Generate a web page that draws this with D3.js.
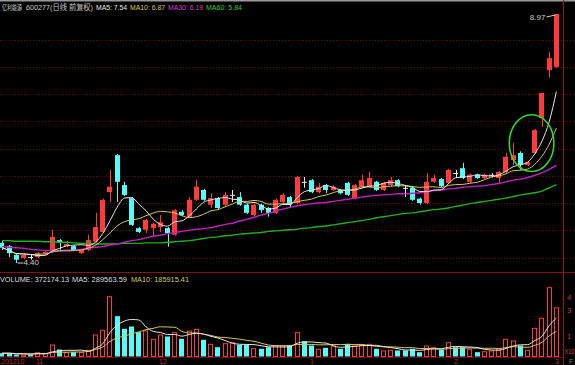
<!DOCTYPE html>
<html><head><meta charset="utf-8">
<script src="https://cdn.jsdelivr.net/npm/d3@7/dist/d3.min.js"></script>
<style>
html,body{margin:0;padding:0;background:#000;overflow:hidden}
svg{display:block}
text{font-family:"Liberation Sans",Arial,"Noto Sans CJK SC",sans-serif}
</style>
</head><body>
<svg id="chart" width="575" height="365"></svg>
<script>
// ---------------- data ----------------
const openP = [4.77,4.71,4.55,4.49,4.51,4.51,4.57,4.64,4.82,4.71,
  4.71,4.58,4.64,4.79,4.97,5.70,6.38,5.83,5.59,5.04,
  5.01,5.04,5.06,5.04,4.92,5.34,5.25,5.56,5.74,5.47,
  5.59,5.47,5.65,5.61,5.47,5.28,5.47,5.41,5.32,5.52,
  5.61,5.50,5.89,5.92,5.70,5.83,5.74,5.74,5.87,5.59,
  5.80,5.80,5.89,5.74,5.83,5.92,5.78,5.78,5.58,5.50,
  5.89,5.94,5.87,6.05,6.14,5.89,6.02,5.96,6.02,5.96,
  6.07,6.29,6.42,6.20,6.42,7.06,7.94,8.00];
const highP = [4.81,4.73,4.57,4.57,4.55,4.60,4.62,5.01,4.84,4.80,
  4.73,4.66,4.92,5.32,5.58,6.11,6.40,5.89,5.61,5.06,
  5.21,5.14,5.28,5.06,5.39,5.37,5.61,5.92,5.76,5.68,
  5.61,5.70,5.74,5.70,5.49,5.49,5.49,5.43,5.58,5.68,
  5.63,6.00,5.98,5.94,5.87,5.85,5.83,5.76,5.89,5.85,
  6.02,6.07,5.91,5.89,5.98,5.94,5.83,5.80,5.60,6.05,
  6.02,5.96,6.13,6.11,6.24,6.04,6.04,6.04,6.05,6.09,
  6.42,6.60,6.45,6.27,6.86,7.52,8.27,8.97];
const lowP = [4.64,4.51,4.40,4.47,4.46,4.49,4.55,4.58,4.64,4.69,
  4.62,4.57,4.62,4.77,4.95,5.52,5.52,5.63,5.08,4.95,
  4.95,4.88,4.97,4.70,4.90,5.26,5.23,5.54,5.54,5.41,
  5.39,5.43,5.52,5.45,5.30,5.26,5.32,5.25,5.30,5.47,
  5.41,5.48,5.78,5.68,5.68,5.68,5.72,5.66,5.63,5.57,
  5.78,5.78,5.72,5.72,5.80,5.79,5.61,5.54,5.47,5.48,
  5.87,5.79,5.85,5.96,5.94,5.87,5.94,5.94,5.97,5.87,
  6.05,6.20,6.11,6.18,6.40,6.90,7.81,7.98];
const closeP = [4.68,4.58,4.46,4.55,4.51,4.58,4.60,4.88,4.77,4.75,
  4.64,4.64,4.82,5.06,5.56,5.80,5.89,5.65,5.10,4.97,
  5.19,5.12,5.15,4.95,5.37,5.28,5.56,5.80,5.56,5.59,
  5.41,5.65,5.65,5.47,5.32,5.47,5.37,5.32,5.56,5.65,
  5.47,5.98,5.89,5.70,5.80,5.74,5.80,5.68,5.65,5.83,
  5.92,5.96,5.74,5.87,5.92,5.81,5.78,5.56,5.50,5.89,
  5.96,5.81,6.11,6.05,5.96,6.02,5.96,6.02,6.02,6.07,
  6.35,6.38,6.20,6.25,6.84,7.52,8.16,8.97];
const volume = [25000,25000,15000,15000,15000,32600,25000,90900,53000,32600,
  32600,32600,50800,166700,202300,456800,305300,209900,227300,184100,
  197000,134100,166700,151500,184100,134100,197000,209900,126500,96200,
  70500,100800,108300,88600,88600,62900,58300,70500,83300,83300,
  83300,184100,115900,83300,58300,65900,83300,58300,96200,83300,
  88600,96200,58300,45500,50800,45500,45500,58300,32600,83300,
  70500,50800,108300,70500,70500,58300,32600,40200,45500,58300,
  134100,121200,83300,50800,217400,293200,525000,372174];
const ma30 = [4.70,4.69,4.68,4.67,4.65,4.64,4.63,4.63,4.62,4.62,
  4.63,4.65,4.67,4.69,4.70,4.73,4.75,4.78,4.81,4.83,
  4.86,4.89,4.91,4.94,4.96,4.98,5.00,5.02,5.03,5.05,
  5.08,5.11,5.13,5.17,5.20,5.24,5.28,5.31,5.35,5.39,
  5.42,5.45,5.47,5.49,5.50,5.51,5.53,5.55,5.57,5.59,
  5.61,5.63,5.64,5.65,5.66,5.67,5.67,5.68,5.69,5.71,
  5.73,5.74,5.76,5.77,5.79,5.80,5.81,5.82,5.84,5.86,
  5.89,5.92,5.94,5.97,6.01,6.06,6.12,6.19];
const ma60 = [4.81,4.81,4.80,4.80,4.80,4.80,4.79,4.79,4.78,4.78,
  4.77,4.76,4.76,4.75,4.75,4.75,4.75,4.76,4.76,4.76,
  4.77,4.77,4.77,4.78,4.79,4.80,4.81,4.83,4.85,4.87,
  4.88,4.90,4.91,4.93,4.94,4.95,4.96,4.98,4.99,5.00,
  5.01,5.02,5.04,5.05,5.07,5.08,5.10,5.12,5.14,5.16,
  5.18,5.20,5.23,5.25,5.27,5.29,5.31,5.32,5.34,5.36,
  5.38,5.39,5.41,5.44,5.46,5.49,5.51,5.53,5.55,5.57,
  5.59,5.62,5.65,5.67,5.69,5.72,5.78,5.84];
const gridPrices = [8.5,8.0,7.5,7.0,6.5,6.0,5.5,5.0,4.5];
const dateLabels = ["201210","11","12","1","2","3"];
const dateLabelIdx = [0,5,22,43,63,77];
const volTickLabels = ["4","3","1"];
const volTickValues = [400000,300000,100000];
const titleParts = ["亿利能源","600277(日线 前复权)","MA5: 7.54","MA10: 6.87","MA30: 6.19","MA60: 5.84"];
const volParts = ["VOLUME: 372174.13","MA5: 289563.59","MA10: 185915.41"];
const markHigh = "8.97", markLow = "4.40";

// ---------------- drawing ----------------
const RED = "#ff3a3a", CYAN = "#54fcfc", DOJI = "#e8e8e8";
const n = closeP.length;
const svg = d3.select("#chart");
const idx = d3.range(n);

const x = d3.scaleBand().domain(idx).range([-1.6, 560]).paddingInner(0.3).paddingOuter(0.15);
const xc = i => x(i) + x.bandwidth() / 2;
const y = d3.scaleLinear().domain([4.40, 8.97]).range([263, 14]);
const yv = d3.scaleLinear().domain([0, 500000]).range([356.5, 290.5]);

svg.append("rect").attr("width", 575).attr("height", 365).attr("fill", "#000");
svg.append("rect").attr("x", 0).attr("y", 0).attr("width", 575).attr("height", 1.5).attr("fill", "#9a9a9a");

// grid
svg.append("g").selectAll("line").data(gridPrices).join("line")
  .attr("x1", 0).attr("x2", 575)
  .attr("y1", d => Math.round(y(d)) + 0.5).attr("y2", d => Math.round(y(d)) + 0.5)
  .attr("stroke", "#740c0c").attr("stroke-dasharray", "1,2");

// panel separators / axes
svg.append("line").attr("x1", 0).attr("x2", 575).attr("y1", 272.5).attr("y2", 272.5).attr("stroke", "#8a1010");
svg.append("line").attr("x1", 0).attr("x2", 563).attr("y1", 357.5).attr("y2", 357.5).attr("stroke", "#6a0a0a");
svg.append("line").attr("x1", 563.5).attr("x2", 563.5).attr("y1", 0).attr("y2", 365).attr("stroke", "#a01414");

const dir = i => {
  if (closeP[i] > openP[i]) return 1;
  if (closeP[i] < openP[i]) return -1;
  return 0;
};
const volUp = i => {
  const d = dir(i);
  if (d !== 0) return d > 0;
  return i === 0 ? true : closeP[i] >= closeP[i - 1];
};
const candleColor = i => dir(i) > 0 ? RED : dir(i) < 0 ? CYAN : DOJI;

// candles
const cg = svg.append("g");
cg.selectAll("line.wick").data(idx).join("line")
  .attr("x1", i => Math.round(xc(i)) + 0.5).attr("x2", i => Math.round(xc(i)) + 0.5)
  .attr("y1", i => y(highP[i])).attr("y2", i => y(lowP[i]))
  .attr("stroke", candleColor).attr("stroke-width", 1);
cg.selectAll("rect.body").data(idx).join("rect")
  .attr("x", i => Math.round(x(i)))
  .attr("width", Math.round(x.bandwidth()))
  .attr("y", i => y(Math.max(openP[i], closeP[i])))
  .attr("height", i => Math.max(1, Math.abs(y(openP[i]) - y(closeP[i]))))
  .attr("fill", candleColor);

// moving averages
const sma = (arr, k) => arr.map((_, i) => d3.mean(arr.slice(Math.max(0, i - k + 1), i + 1)));
const ma5 = sma(closeP, 5), ma10 = sma(closeP, 10);
const line = d3.line().x((d, i) => xc(i)).y(d => y(d)).curve(d3.curveMonotoneX);
[[ma60, "#1fae1f", 1.4], [ma30, "#c21fc2", 1.4], [ma10, "#d8c85a", 1], [ma5, "#e6e6e6", 1]].forEach(([d, c, w]) => {
  svg.append("path").attr("d", line(d)).attr("fill", "none").attr("stroke", c).attr("stroke-width", w);
});

// volume bars
const vg = svg.append("g");
vg.selectAll("rect").data(idx).join("rect")
  .attr("x", i => Math.round(x(i)) + (volUp(i) ? 0.5 : 0))
  .attr("width", i => Math.round(x.bandwidth()) - (volUp(i) ? 1 : 0))
  .attr("y", i => yv(volume[i]) + (volUp(i) ? 0.5 : 0))
  .attr("height", i => yv(0) - yv(volume[i]) - (volUp(i) ? 0.5 : 0))
  .attr("fill", i => volUp(i) ? "#000" : CYAN)
  .attr("stroke", i => volUp(i) ? RED : "none")
  .attr("stroke-width", 1);
const vma5 = sma(volume, 5), vma10 = sma(volume, 10);
const vline = d3.line().x((d, i) => xc(i)).y(d => yv(d)).curve(d3.curveMonotoneX);
svg.append("path").attr("d", vline(vma10)).attr("fill", "none").attr("stroke", "#d8c85a").attr("stroke-width", 1);
svg.append("path").attr("d", vline(vma5)).attr("fill", "none").attr("stroke", "#e6e6e6").attr("stroke-width", 1);

// volume axis labels
svg.append("g").selectAll("text").data(volTickValues).join("text")
  .attr("x", 567).attr("y", d => yv(d) - 4)
  .attr("fill", "#c83a3a").attr("font-size", 7.5).text((d, i) => volTickLabels[i]);
svg.append("text").attr("x", 564.5).attr("y", 354).attr("fill", "#c04848").attr("font-size", 6.5)
  .attr("textLength", 10).attr("lengthAdjust", "spacingAndGlyphs").text("X10");
svg.append("text").attr("x", 569).attr("y", 364).attr("fill", "#8a8a8a").attr("font-size", 6.5).text("F");

// date labels
svg.append("g").selectAll("text").data(dateLabelIdx).join("text")
  .attr("x", (d, i) => i === 0 ? 1 : Math.round(x(d)) + 1)
  .attr("y", 364).attr("fill", "#c02828").attr("font-size", 7)
  .text((d, i) => dateLabels[i]);

// title
const titleX = [2, 26, 96, 130, 168, 206];
const titleW = [20, 67, 31, 35, 35, 36];
const titleF = [6.5, 7.5, 7.5, 7.5, 7.5, 7.5];
const titleC = ["#c8c8c8", "#c8c8c8", "#e6e6e6", "#d8c85a", "#d040d0", "#3cc83c"];
svg.append("g").selectAll("text").data(titleParts).join("text")
  .attr("x", (d, i) => titleX[i]).attr("y", 10)
  .attr("textLength", (d, i) => titleW[i]).attr("lengthAdjust", "spacingAndGlyphs")
  .attr("fill", (d, i) => titleC[i]).attr("font-size", (d, i) => titleF[i]).text(d => d);

const volX = [0, 72, 131];
const volW = [69, 55, 58];
const volC = ["#dcdcdc", "#dcdcdc", "#d8c85a"];
svg.append("g").selectAll("text").data(volParts).join("text")
  .attr("x", (d, i) => volX[i]).attr("y", 282)
  .attr("textLength", (d, i) => volW[i]).attr("lengthAdjust", "spacingAndGlyphs")
  .attr("fill", (d, i) => volC[i]).attr("font-size", 7.5).text(d => d);

// high / low markers
const hiI = d3.maxIndex(highP), loI = d3.minIndex(lowP);
svg.append("line").attr("x1", xc(hiI) - 1).attr("y1", y(highP[hiI]) + 1)
  .attr("x2", xc(hiI) - 10).attr("y2", y(highP[hiI]) + 3).attr("stroke", "#d0d0d0");
svg.append("text").attr("x", xc(hiI) - 11).attr("y", y(highP[hiI]) + 6).attr("text-anchor", "end")
  .attr("fill", "#d0d0d0").attr("font-size", 8).text(markHigh);
svg.append("line").attr("x1", xc(loI) + 1).attr("y1", y(lowP[loI]))
  .attr("x2", xc(loI) + 7).attr("y2", y(lowP[loI])).attr("stroke", "#d0d0d0");
svg.append("text").attr("x", xc(loI) + 7).attr("y", y(lowP[loI]) + 2)
  .attr("fill", "#d0d0d0").attr("font-size", 8).text(markLow);

// green circle annotation around candles 70-75
const cI = 73;
svg.append("ellipse")
  .attr("cx", xc(cI) + 4).attr("cy", y(6.60))
  .attr("rx", x.step() * 3.1).attr("ry", (y(6.08) - y(7.12)) / 2)
  .attr("fill", "none").attr("stroke", "#2fd82f").attr("stroke-width", 1.6);
</script>
</body></html>
